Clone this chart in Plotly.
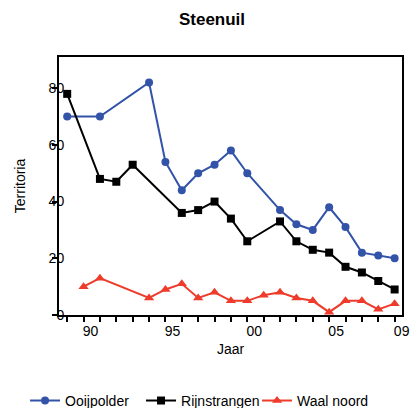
import plotly.graph_objects as go

# Data
ooij_years = [1989, 1991, 1994, 1995, 1996, 1997, 1998, 1999, 2000, 2002, 2003, 2004, 2005, 2006, 2007, 2008, 2009]
ooij_vals = [70, 70, 82, 54, 44, 50, 53, 58, 50, 37, 32, 30, 38, 31, 22, 21, 20]

rijn_years = [1989, 1991, 1992, 1993, 1996, 1997, 1998, 1999, 2000, 2002, 2003, 2004, 2005, 2006, 2007, 2008, 2009]
rijn_vals = [78, 48, 47, 53, 36, 37, 40, 34, 26, 33, 26, 23, 22, 17, 15, 12, 9]

waal_years = [1990, 1991, 1994, 1995, 1996, 1997, 1998, 1999, 2000, 2001, 2002, 2003, 2004, 2005, 2006, 2007, 2008, 2009]
waal_vals = [10, 13, 6, 9, 11, 6, 8, 5, 5, 7, 8, 6, 5, 1, 5, 5, 2, 4]

x_tick_years = list(range(1989, 2010))
x_labelled = {1990: "90", 1995: "95", 2000: "00", 2005: "05", 2009: "09"}
x_tick_text = [x_labelled.get(y, "") for y in x_tick_years]
y_tick_vals = [0, 20, 40, 60, 80]

BLUE = "#3253A8"
BLACK = "#000000"
RED = "#EE3B2B"
FONT = "Liberation Sans, Arial, sans-serif"

W, H = 411, 408

fig = go.Figure()
fig.add_trace(go.Scatter(x=ooij_years, y=ooij_vals, name="Ooijpolder", mode="lines+markers",
                         line=dict(color=BLUE, width=2), marker=dict(symbol="circle", size=8, color=BLUE)))
fig.add_trace(go.Scatter(x=rijn_years, y=rijn_vals, name="Rijnstrangen", mode="lines+markers",
                         line=dict(color=BLACK, width=2), marker=dict(symbol="square", size=8, color=BLACK)))
fig.add_trace(go.Scatter(x=waal_years, y=waal_vals, name="Waal noord", mode="lines+markers",
                         line=dict(color=RED, width=2), marker=dict(symbol="triangle-up", size=9, color=RED)))

fig.update_layout(
    width=W, height=H,
    margin=dict(l=59, r=9, t=57, b=93, autoexpand=False),
    paper_bgcolor="white", plot_bgcolor="white",
    font=dict(family=FONT, size=14, color="black"),
    title=dict(text="<b>Steenuil</b>", x=212 / W, xanchor="center", y=1 - 19 / H, yanchor="middle",
               yref="container", font=dict(size=17, family=FONT, color="black")),
    showlegend=True,
    legend=dict(orientation="h", x=-0.099, xanchor="left", y=-0.271, yanchor="top",
                font=dict(size=14, family=FONT), entrywidth=71, entrywidthmode="pixels",
                bgcolor="rgba(0,0,0,0)"),
)
fig.update_xaxes(
    range=[1988.5, 2009.45], tickmode="array", tickvals=x_tick_years, ticktext=x_tick_text,
    ticks="outside", ticklen=5, tickwidth=1.5, tickcolor="black",
    showline=True, linecolor="black", linewidth=2, mirror=True,
    showgrid=False, zeroline=False, ticklabelshift=7, ticklabelstandoff=-3, automargin=False,
    tickfont=dict(size=14, family=FONT),
    title=dict(text="Jaar", font=dict(size=14, family=FONT), standoff=6),
)
fig.update_yaxes(
    range=[0, 91], tickmode="array", tickvals=y_tick_vals,
    ticks="outside", ticklen=5, tickwidth=1.5, tickcolor="black",
    showline=True, linecolor="black", linewidth=2, mirror=True,
    showgrid=False, zeroline=False, ticklabelstandoff=-15, automargin=False,
    tickfont=dict(size=14, family=FONT),
    title=dict(text="Territoria", font=dict(size=14, family=FONT), standoff=20),
)

# Remove the browser's default page margin so the figure fills the window exactly
fig.write_html("out.html", config={"displayModeBar": False},
               post_script="document.body.style.margin='0';document.body.style.overflow='hidden';")
